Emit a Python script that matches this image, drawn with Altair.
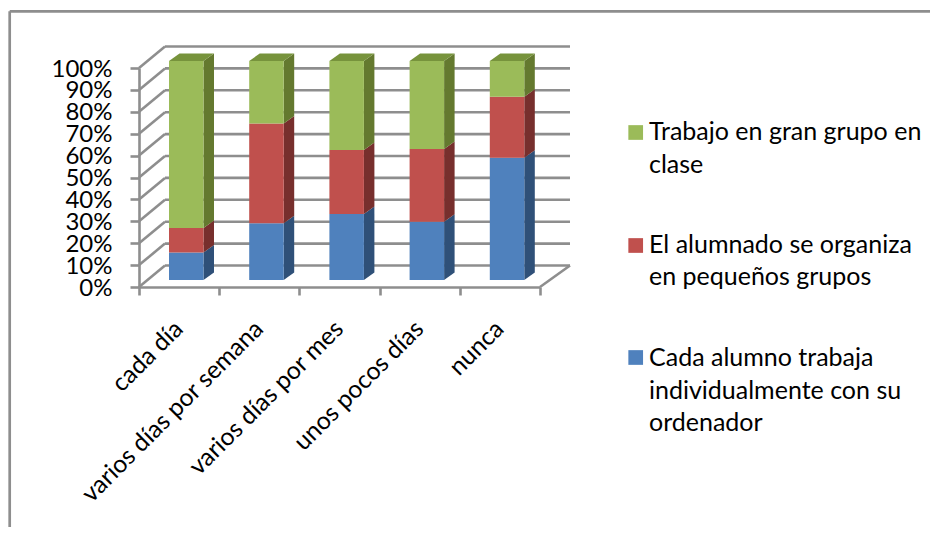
import altair as alt
import pandas as pd

categories = ["cada día", "varios días por semana", "varios días por mes", "unos pocos días", "nunca"]
blue_values = [12.6, 25.9, 30.1, 26.6, 55.8]
red_values = [11.1, 45.6, 29.3, 33.2, 27.9]
green_values = [76.3, 28.5, 40.6, 40.2, 16.3]
series_names = [
    "Cada alumno trabaja\nindividualmente con su\nordenador",
    "El alumnado se organiza\nen pequeños grupos",
    "Trabajo en gran grupo en\nclase",
]
front_colors = ["#4F81BD", "#C0504D", "#9BBB59"]
side_colors = ["#2F5078", "#772F2D", "#64792F"]
top_color = "#77933C"
percent_ticks = list(range(0, 101, 10))

FONT = "Lato"
FS = 25
FS_X = 24.7
FS_Y = 24
GRAY = "#8E8E8E"
LW = 2.6
PX_X = 401 / 5
PX_Y = 219 / 100

WALL_DX = 26 / PX_X
WALL_DX_RIGHT = 30 / PX_X
WALL_DY = 21.5 / PX_Y
BAR_START = 30 / PX_X
BAR_WIDTH = 34.5 / PX_X
BAR_LIFT = 7 / PX_Y
DEPTH_DX = 10.5 / PX_X
DEPTH_DY = 7.5 / PX_Y

label_list = "[" + ",".join("'" + c + "'" for c in categories) + "]"
axis_x = alt.Axis(
    values=list(range(6)), labelExpr=f"datum.value < 5 ? {label_list}[datum.value] : ''",
    labelAngle=-45, labelAlign="right", labelBaseline="middle", labelOffset=40, labelPadding=30,
    labelFont=FONT, labelFontSize=FS_X, labelColor="#000000", labelOverlap=False, labelBound=False, labelFlush=False,
    domainColor=GRAY, domainWidth=LW, tickColor=GRAY, tickWidth=LW, tickSize=8, grid=False, labelLimit=500,
)
axis_y = alt.Axis(
    values=percent_ticks, labelExpr="datum.value + '%'", labelFont=FONT, labelFontSize=FS_Y, labelColor="#000000",
    labelOverlap=False, labelBound=False, labelFlush=False, labelPadding=18, labelOffset=1,
    domainColor=GRAY, domainWidth=LW, tickColor=GRAY, tickWidth=LW, tickSize=9, grid=False,
)
x_scale = alt.Scale(domain=[0, 5], nice=False, zero=False)
y_scale = alt.Scale(domain=[0, 100], nice=False)
X = lambda f: alt.X(f, type="quantitative", scale=x_scale, axis=axis_x, title=None)
Y = lambda f: alt.Y(f, type="quantitative", scale=y_scale, axis=axis_y, title=None)

walls = pd.DataFrame({"v": percent_ticks})
walls["v_back"] = walls.v + WALL_DY
walls["x0"] = 0.0
walls["xd"] = WALL_DX
walls["xe"] = 5 + WALL_DX_RIGHT

rule = alt.Chart(walls).mark_rule(color=GRAY, strokeWidth=LW)
layers = [
    rule.encode(x=X("x0"), x2="xd", y=Y("v"), y2="v_back"),
    rule.encode(x=X("xd"), x2="xe", y=Y("v_back")),
]
floor = pd.DataFrame({"a": [5.0], "b": [5 + WALL_DX_RIGHT], "c": [0.0], "d": [WALL_DY]})
layers.append(alt.Chart(floor).mark_rule(color=GRAY, strokeWidth=LW).encode(x=X("a"), x2="b", y=Y("c"), y2="d"))

cumulative = [0.0] * len(categories)
for k, values in enumerate([blue_values, red_values, green_values]):
    front, side, top = [], [], []
    for i, val in enumerate(values):
        lo = cumulative[i] + BAR_LIFT
        hi = lo + val
        cumulative[i] += val
        x0 = i + BAR_START
        x1 = x0 + BAR_WIDTH
        front.append({"x": x0, "x2": x1, "y": lo, "y2": hi})
        side.append({"id": i, "x": x1, "y": lo, "y2": hi})
        side.append({"id": i, "x": x1 + DEPTH_DX, "y": lo + DEPTH_DY, "y2": hi + DEPTH_DY})
        if k == 2:
            top.append({"id": i, "x": x0, "y": hi, "y2": hi})
            top.append({"id": i, "x": x0 + DEPTH_DX, "y": hi, "y2": hi + DEPTH_DY})
            top.append({"id": i, "x": x1, "y": hi, "y2": hi + DEPTH_DY})
            top.append({"id": i, "x": x1 + DEPTH_DX, "y": hi + DEPTH_DY, "y2": hi + DEPTH_DY})
    layers.append(alt.Chart(pd.DataFrame(side)).mark_area(color=side_colors[k], interpolate="linear").encode(
        x=X("x"), y=Y("y"), y2="y2", detail="id:N"))
    if top:
        layers.append(alt.Chart(pd.DataFrame(top)).mark_area(color=top_color, interpolate="linear").encode(
            x=X("x"), y=Y("y"), y2="y2", detail="id:N"))
    layers.append(alt.Chart(pd.DataFrame(front)).mark_rect(color=front_colors[k]).encode(
        x=X("x"), x2="x2", y=Y("y"), y2="y2"))

# Legend, top entry first, as in the reference
ORIGIN_X, ORIGIN_Y = 139, 68
swatch_centres = [357.5, 245.5, 132.5]
first_baselines = [366, 252.7, 140]
for k in range(3):
    one = pd.DataFrame({"t": [series_names[k]]})
    layers.append(alt.Chart(one).mark_square(color=front_colors[k], opacity=1, size=216,
                                             x=635.7 - ORIGIN_X, y=swatch_centres[k] - ORIGIN_Y).encode(detail="t:N"))
    layers.append(alt.Chart(one).mark_text(font=FONT, fontSize=FS, color="#000000", align="left", baseline="alphabetic",
                                           lineBreak="\n", lineHeight=32.7,
                                           x=649 - ORIGIN_X, y=first_baselines[k] - ORIGIN_Y).encode(text="t:N"))

# Chart frame
frame_left = 9.7 - ORIGIN_X
frame_top = 11.3 - ORIGIN_Y
dummy = pd.DataFrame({"f": [0]})
layers.append(alt.Chart(dummy).mark_rule(color=GRAY, strokeWidth=2.7).encode(
    x=alt.value(frame_left), y=alt.value(frame_top), y2=alt.value(536 - ORIGIN_Y)))
layers.append(alt.Chart(dummy).mark_rule(color=GRAY, strokeWidth=2.7).encode(
    y=alt.value(frame_top), x=alt.value(frame_left), x2=alt.value(938 - ORIGIN_X)))

chart = alt.layer(*layers).properties(
    width=401, height=219,
    padding={"left": 131, "top": 60, "right": 390, "bottom": 240},
    autosize=alt.AutoSizeParams(type="none"),
    background="white",
).configure_view(stroke=None)

chart.save("out.html", embed_options={"renderer": "svg", "actions": False})
